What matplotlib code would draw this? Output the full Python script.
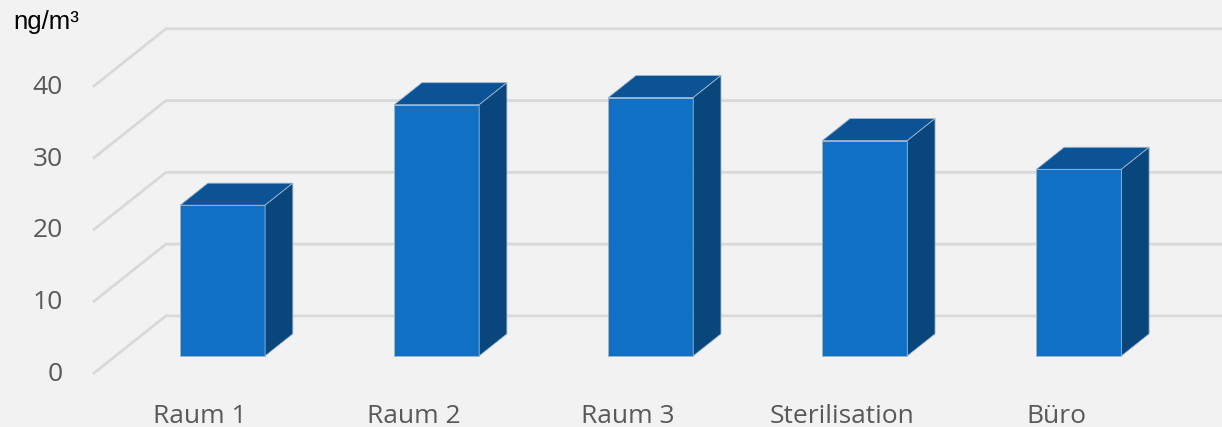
import matplotlib
matplotlib.use("Agg")
import matplotlib.pyplot as plt
from matplotlib.patches import Polygon

# ---- data ----
categories = ["Raum 1", "Raum 2", "Raum 3", "Sterilisation", "Büro"]
values = [21, 35, 36, 30, 26]
yticks = [0, 10, 20, 30, 40]
unit_label = "ng/m³"

# ---- style / geometry ----
W, H = 1222, 427
fig = plt.figure(figsize=((W + 0.4) / 100, (H + 0.4) / 100), dpi=100)
fig.patch.set_facecolor("#f2f2f2")
ax = fig.add_axes([0, 0, 1, 1])
ax.set_facecolor("#f2f2f2")
ax.set_axis_off()

px_per_cat = 214.0
px_per_unit = 7.17
x0_px = 222.5          # screen x of first bar front centre
y0_px = 356.0          # screen y (from top) of value 0 at bar front plane
xmin, xmax = -x0_px / px_per_cat, (W - x0_px) / px_per_cat
ax.set_xlim(xmin, xmax)
ax.set_ylim(-(H - y0_px) / px_per_unit, y0_px / px_per_unit)

# full depth vector (screen) in data units
Dx = 73 / px_per_cat
Dy = 58 / px_per_unit
d_front = 0.31   # bar front depth fraction
d_back = 0.69    # bar back depth fraction
bar_w = 85 / px_per_cat


def proj(x, v, d):
    return (x + (d - d_front) * Dx, v + (d - d_front) * Dy)


grid_c = "#d9d9d9"
left_wall = -0.5
for t in yticks:
    xa, ya = proj(left_wall, t, 0.0)
    xb, yb = proj(left_wall, t, 1.0)
    ax.plot([xa, xb, xmax + 0.05], [ya, yb, yb], color=grid_c, lw=2.0,
            solid_capstyle="butt", solid_joinstyle="round", zorder=1)
    ax.text(xa - 30 / px_per_cat, ya, str(t),
            ha="right", va="center", fontsize=19, color="#595959",
            family="Open Sans")

front_c = "#0f70c5"
top_c = "#0b5395"
side_c = "#08467c"
edge_c = "#9fb6cc"

for i, (cat, v) in enumerate(zip(categories, values)):
    xl = i - bar_w / 2
    xr = i + bar_w / 2
    ax.bar(i, v, width=bar_w, bottom=0, color=front_c, edgecolor=edge_c,
           linewidth=0.6, zorder=3)
    top = [proj(xl, v, d_front), proj(xr, v, d_front),
           proj(xr, v, d_back), proj(xl, v, d_back)]
    ax.add_patch(Polygon(top, closed=True, facecolor=top_c, edgecolor=edge_c,
                         linewidth=0.6, zorder=3))
    side = [proj(xr, 0, d_front), proj(xr, v, d_front),
            proj(xr, v, d_back), proj(xr, 0, d_back)]
    ax.add_patch(Polygon(side, closed=True, facecolor=side_c, edgecolor=edge_c,
                         linewidth=0.6, zorder=3))
    lx, ly = proj(i, 0, 0.0)
    ax.text(lx, ly - 42 / px_per_unit, cat, ha="center", va="center",
            fontsize=19, color="#595959", family="Open Sans")

fig.text(13 / W, 1 - 22 / H, unit_label, ha="left", va="center",
         fontsize=18.5, color="#000000", family="Liberation Sans")

fig.savefig("out.png", dpi=100, facecolor=fig.get_facecolor())
